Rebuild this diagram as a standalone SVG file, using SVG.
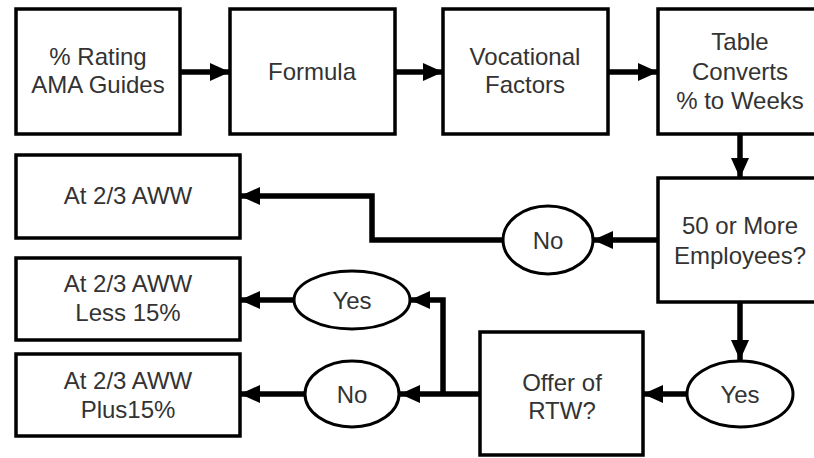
<svg xmlns="http://www.w3.org/2000/svg" width="814" height="458" viewBox="0 0 814 458">
<style>
.box{fill:#fff;stroke:#000;stroke-width:3.5}
.oval{fill:#fff;stroke:#000;stroke-width:3}
.t{font-family:"Liberation Sans",Arial,sans-serif;font-size:24px;fill:#333;text-anchor:middle}
.c{fill:none;stroke:#000;stroke-width:5.5}
</style>
<defs>
<marker id="ah" viewBox="0 0 20 18" refX="20" refY="9" markerWidth="20" markerHeight="18" markerUnits="userSpaceOnUse" orient="auto">
<path d="M0,0 L20,9 L0,18 Z" fill="#000"/>
</marker>
</defs>
<rect width="814" height="458" fill="#fff"/>
<g id="connectors">
<line class="c" x1="180" y1="72" x2="230" y2="72" marker-end="url(#ah)"/>
<line class="c" x1="395" y1="72" x2="443" y2="72" marker-end="url(#ah)"/>
<line class="c" x1="608" y1="72" x2="658" y2="72" marker-end="url(#ah)"/>
<line class="c" x1="740" y1="134" x2="740" y2="178" marker-end="url(#ah)"/>
<line class="c" x1="658" y1="240" x2="593" y2="240" marker-end="url(#ah)"/>
<polyline class="c" points="502,240 372,240 372,196 240,196" marker-end="url(#ah)"/>
<line class="c" x1="740" y1="302" x2="740" y2="360" marker-end="url(#ah)"/>
<line class="c" x1="687" y1="394" x2="643" y2="394" marker-end="url(#ah)"/>
<line class="c" x1="480" y1="394" x2="400" y2="394" marker-end="url(#ah)"/>
<polyline class="c" points="443,394 443,300 410,300" marker-end="url(#ah)"/>
<line class="c" x1="294" y1="300" x2="240" y2="300" marker-end="url(#ah)"/>
<line class="c" x1="305" y1="394" x2="240" y2="394" marker-end="url(#ah)"/>
</g>
<g id="n1"><rect class="box" x="16" y="9" width="164" height="125"/><text class="t" x="98" y="65">% Rating</text><text class="t" x="98" y="93">AMA Guides</text></g>
<g id="n2"><rect class="box" x="230" y="9" width="165" height="125"/><text class="t" x="312" y="80">Formula</text></g>
<g id="n3"><rect class="box" x="443" y="9" width="165" height="125"/><text class="t" x="525" y="65">Vocational</text><text class="t" x="525" y="93">Factors</text></g>
<g id="n4"><rect class="box" x="658" y="9" width="170" height="125"/><text class="t" x="740" y="50">Table</text><text class="t" x="740" y="80">Converts</text><text class="t" x="740" y="109">% to Weeks</text></g>
<g id="n5"><rect class="box" x="658" y="178" width="170" height="124"/><text class="t" x="740" y="234">50 or More</text><text class="t" x="740" y="264">Employees?</text></g>
<g id="n6"><ellipse class="oval" cx="548" cy="240" rx="45" ry="34"/><text class="t" x="548" y="249">No</text></g>
<g id="n7"><rect class="box" x="16" y="155" width="224" height="83"/><text class="t" x="128" y="204">At 2/3 AWW</text></g>
<g id="n8"><rect class="box" x="16" y="258" width="224" height="82"/><text class="t" x="128" y="292">At 2/3 AWW</text><text class="t" x="128" y="321">Less 15%</text></g>
<g id="n9"><rect class="box" x="16" y="354" width="224" height="82"/><text class="t" x="128" y="389">At 2/3 AWW</text><text class="t" x="128" y="418">Plus15%</text></g>
<g id="n10"><ellipse class="oval" cx="352" cy="300" rx="58" ry="29"/><text class="t" x="352" y="309">Yes</text></g>
<g id="n11"><ellipse class="oval" cx="352" cy="394" rx="47" ry="33"/><text class="t" x="352" y="403">No</text></g>
<g id="n12"><rect class="box" x="480" y="332" width="163" height="123"/><text class="t" x="562" y="391">Offer of</text><text class="t" x="562" y="419">RTW?</text></g>
<g id="n13"><ellipse class="oval" cx="740" cy="394" rx="53" ry="33"/><text class="t" x="740" y="403">Yes</text></g>
</svg>
